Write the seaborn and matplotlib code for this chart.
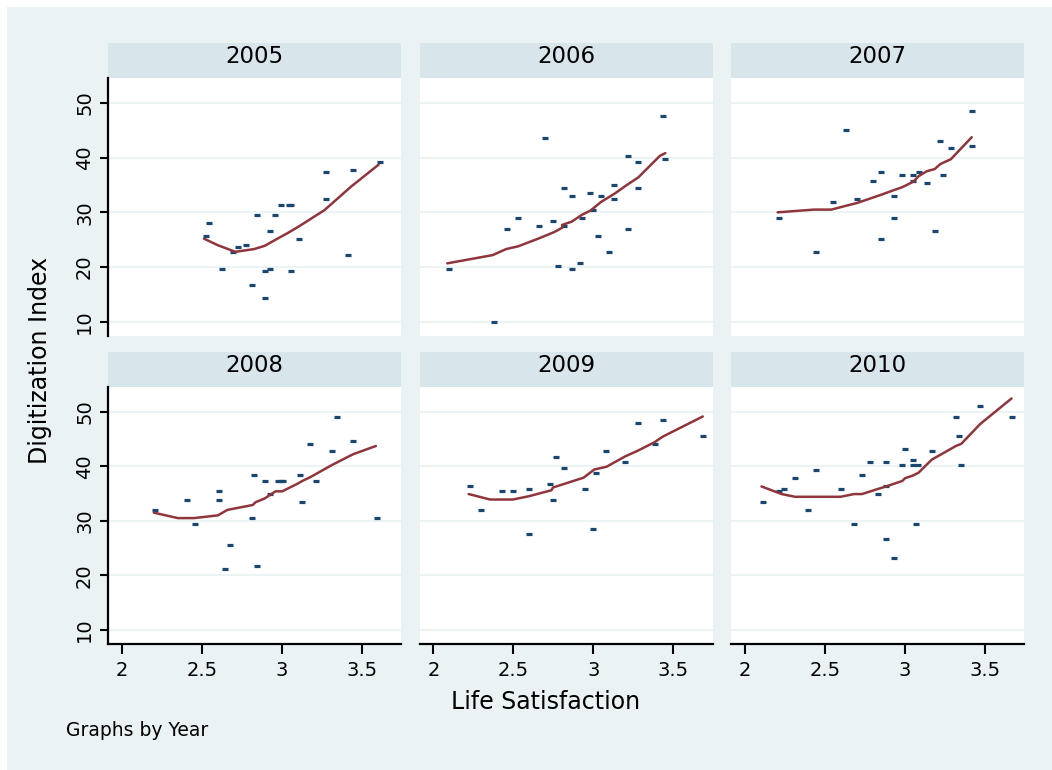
import numpy as np
import pandas as pd
import matplotlib
matplotlib.use("Agg")
import matplotlib.pyplot as plt
from matplotlib.patches import Rectangle
import seaborn as sns

# ---------------- data ----------------
years = [2005, 2006, 2007, 2008, 2009, 2010]

ls_2005 = [2.525, 2.542, 2.626, 2.692, 2.726, 2.776, 2.81, 2.843, 2.893, 2.893, 2.927, 2.927,
           2.96, 2.994, 3.044, 3.06, 3.06, 3.11, 3.278, 3.278, 3.412, 3.446, 3.613]
di_2005 = [25.6, 28.0, 19.75, 22.7, 23.65, 24.1, 16.8, 29.5, 19.3, 14.4, 26.6, 19.75,
           29.5, 31.4, 31.4, 31.4, 19.3, 25.1, 37.3, 32.4, 22.2, 37.8, 39.2]

ls_2006 = [2.094, 2.379, 2.462, 2.529, 2.663, 2.697, 2.747, 2.780, 2.814, 2.814, 2.864, 2.864,
           2.914, 2.931, 2.981, 2.998, 3.031, 3.048, 3.098, 3.132, 3.132, 3.215, 3.215, 3.282,
           3.282, 3.433, 3.45]
di_2006 = [19.75, 10.0, 27.05, 29.0, 27.5, 43.6, 28.5, 20.25, 34.4, 27.5, 33.0, 19.75,
           20.7, 29.0, 33.5, 30.5, 25.6, 33.0, 22.7, 34.9, 32.5, 40.2, 27.05, 39.2,
           34.4, 47.5, 39.7]

ls_2007 = [2.212, 2.447, 2.548, 2.632, 2.70, 2.80, 2.851, 2.851, 2.935, 2.935, 2.985, 3.053,
           3.053, 3.086, 3.137, 3.187, 3.221, 3.237, 3.288, 3.422, 3.422]
di_2007 = [29.0, 22.7, 31.9, 45.1, 32.4, 35.8, 37.3, 25.1, 33.0, 29.0, 36.8, 36.8,
           35.8, 37.3, 35.3, 26.6, 43.1, 36.8, 41.7, 48.5, 42.1]

ls_2008 = [2.207, 2.408, 2.458, 2.609, 2.609, 2.642, 2.676, 2.81, 2.826, 2.843, 2.893, 2.927,
           2.977, 2.994, 3.01, 3.111, 3.128, 3.178, 3.211, 3.312, 3.345, 3.446, 3.596]
di_2008 = [31.95, 33.9, 29.5, 35.4, 33.9, 21.2, 25.6, 30.5, 38.3, 21.7, 37.3, 34.9,
           37.3, 37.3, 37.3, 38.3, 33.4, 44.1, 37.3, 42.7, 49.0, 44.6, 30.5]

ls_2009 = [2.228, 2.295, 2.429, 2.496, 2.596, 2.596, 2.73, 2.747, 2.764, 2.814, 2.948, 2.998,
           3.015, 3.082, 3.199, 3.282, 3.383, 3.433, 3.684]
di_2009 = [36.3, 31.95, 35.4, 35.4, 35.85, 27.6, 36.8, 33.9, 41.7, 39.75, 35.85, 28.5,
           38.8, 42.7, 40.7, 48.0, 44.1, 48.5, 45.6]

ls_2010 = [2.111, 2.212, 2.245, 2.313, 2.396, 2.447, 2.598, 2.682, 2.732, 2.782, 2.833, 2.883,
           2.883, 2.883, 2.934, 2.984, 3.001, 3.051, 3.051, 3.068, 3.085, 3.168, 3.319, 3.336,
           3.353, 3.47, 3.672]
di_2010 = [33.4, 35.4, 35.85, 37.8, 31.95, 39.3, 35.85, 29.5, 38.3, 40.7, 34.9, 40.7,
           36.3, 26.6, 23.2, 40.2, 43.2, 41.2, 40.2, 29.5, 40.2, 42.7, 49.0, 45.6,
           40.2, 51.0, 49.0]

# lowess fit lines as drawn in the picture
fx_2005 = [2.513, 2.60, 2.709, 2.826, 2.893, 2.96, 3.035, 3.11, 3.266, 3.433, 3.605]
fy_2005 = [25.2, 24.0, 22.8, 23.3, 23.9, 25.0, 26.2, 27.5, 30.4, 34.7, 38.7]

fx_2006 = [2.086, 2.37, 2.454, 2.529, 2.655, 2.755, 2.805, 2.805, 2.864, 2.931, 2.981,
           3.048, 3.132, 3.215, 3.282, 3.416, 3.45]
fy_2006 = [20.7, 22.2, 23.3, 23.8, 25.2, 26.4, 27.2, 27.7, 28.3, 29.6, 30.3,
           31.9, 33.4, 35.1, 36.4, 40.3, 40.8]

fx_2007 = [2.204, 2.431, 2.54, 2.632, 2.70, 2.851, 2.935, 2.985, 3.053, 3.086, 3.137,
           3.187, 3.221, 3.288, 3.418]
fy_2007 = [30.0, 30.5, 30.5, 31.2, 31.7, 33.2, 34.1, 34.6, 35.6, 36.6, 37.5,
           37.9, 38.8, 39.7, 43.7]

fx_2008 = [2.199, 2.349, 2.45, 2.6, 2.659, 2.818, 2.835, 2.893, 2.96, 3.002, 3.098,
           3.128, 3.178, 3.312, 3.446, 3.588]
fy_2008 = [31.5, 30.5, 30.5, 31.0, 32.0, 32.9, 33.4, 34.1, 35.4, 35.4, 36.8,
           37.3, 38.0, 40.2, 42.2, 43.7]

fx_2009 = [2.22, 2.354, 2.496, 2.596, 2.738, 2.747, 2.939, 3.006, 3.082, 3.199, 3.282,
           3.383, 3.433, 3.684]
fy_2009 = [34.9, 33.9, 33.9, 34.5, 35.6, 36.1, 37.9, 39.4, 39.9, 41.8, 42.9,
           44.4, 45.4, 49.1]

fx_2010 = [2.103, 2.229, 2.313, 2.447, 2.598, 2.682, 2.732, 2.833, 2.883, 2.984, 3.001,
           3.051, 3.085, 3.168, 3.319, 3.353, 3.47, 3.667]
fy_2010 = [36.3, 34.9, 34.4, 34.4, 34.4, 34.9, 34.9, 35.85, 36.3, 37.3, 37.8,
           38.3, 38.8, 41.2, 43.7, 44.1, 47.7, 52.4]

x_ticks = [2, 2.5, 3, 3.5]
x_ticklabels = ["2", "2.5", "3", "3.5"]
y_ticks = [10, 20, 30, 40, 50]
y_ticklabels = ["10", "20", "30", "40", "50"]

pts = {2005: (ls_2005, di_2005), 2006: (ls_2006, di_2006), 2007: (ls_2007, di_2007),
       2008: (ls_2008, di_2008), 2009: (ls_2009, di_2009), 2010: (ls_2010, di_2010)}
fits = {2005: (fx_2005, fy_2005), 2006: (fx_2006, fy_2006), 2007: (fx_2007, fy_2007),
        2008: (fx_2008, fy_2008), 2009: (fx_2009, fy_2009), 2010: (fx_2010, fy_2010)}

scatter_df = pd.concat([pd.DataFrame({"Year": y, "ls": pts[y][0], "di": pts[y][1]}) for y in years])
fit_df = pd.concat([pd.DataFrame({"Year": y, "ls": fits[y][0], "di": fits[y][1]}) for y in years])

# ---------------- styling ----------------
sns.set_theme(style="white")
plt.rcParams["font.family"] = ["DejaVu Sans"]
plt.rcParams["text.color"] = "black"
plt.rcParams["xtick.color"] = "black"
plt.rcParams["ytick.color"] = "black"

BG = "#EAF2F3"
STRIP = "#D8E5EB"
NAVY = "#1A476F"
MAROON = "#90353B"

W, H = 1052, 770
fig = plt.figure(figsize=(W / 100, H / 100), dpi=100, facecolor="white")
fig.patches.append(Rectangle((7 / W, 0), 1 - 7 / W, 1 - 7 / H, transform=fig.transFigure,
                             facecolor=BG, edgecolor="none", zorder=-10))

col_left = [108, 419.5, 731]
col_w = 293
row_top = [78, 387]
row_h = [258, 257]
strip_h = 35

for i, yr in enumerate(years):
    r, c = divmod(i, 3)
    left = col_left[c]
    top = row_top[r]
    ax = fig.add_axes([left / W, 1 - (top + row_h[r]) / H, col_w / W, row_h[r] / H])
    ax.set_facecolor("white")
    sub = scatter_df[scatter_df["Year"] == yr]
    fsub = fit_df[fit_df["Year"] == yr]
    for yt in y_ticks:
        ax.axhline(yt, color=BG, lw=1.3, zorder=0)
    sns.scatterplot(data=sub, x="ls", y="di", ax=ax, marker="_", s=20, linewidth=2.3,
                    color=NAVY, zorder=3, legend=False)
    sns.lineplot(data=fsub, x="ls", y="di", ax=ax, sort=False, estimator=None,
                 color=MAROON, lw=1.8, zorder=4)
    ax.set_xlim(1.9125, 3.745)
    ax.set_ylim(7.45, 54.5)
    ax.set_xlabel("")
    ax.set_ylabel("")
    ax.grid(False)
    for s in ["top", "right"]:
        ax.spines[s].set_visible(False)
    ax.spines["left"].set_visible(c == 0)
    ax.spines["bottom"].set_visible(r == 1)
    for s in ["left", "bottom"]:
        ax.spines[s].set_color("black")
        ax.spines[s].set_linewidth(1.6)
    ax.set_yticks(y_ticks)
    if c == 0:
        ax.set_yticklabels(y_ticklabels)
        ax.tick_params(axis="y", direction="out", length=6, width=1.5, color="black",
                       labelcolor="black", labelsize=14, pad=4, left=True)
        for lab in ax.get_yticklabels():
            lab.set_rotation(90)
            lab.set_va("center")
            lab.set_ha("right")
    else:
        ax.tick_params(axis="y", left=False, labelleft=False)
    ax.set_xticks(x_ticks)
    if r == 1:
        ax.set_xticklabels(x_ticklabels)
        ax.tick_params(axis="x", direction="out", length=7, width=1.5, color="black",
                       labelcolor="black", labelsize=14, pad=5, bottom=True)
    else:
        ax.tick_params(axis="x", bottom=False, labelbottom=False)
    # strip
    st_top = top - strip_h
    fig.patches.append(Rectangle((left / W, 1 - top / H), col_w / W, strip_h / H,
                                 transform=fig.transFigure, facecolor=STRIP,
                                 edgecolor="none", zorder=-5))
    fig.text((left + col_w / 2) / W, 1 - (st_top + 20) / H, str(yr), ha="center",
             va="baseline", fontsize=16.5, color="black")

fig.text(40 / W, 1 - 360 / H, "Digitization Index", rotation=90, ha="center", va="center",
         fontsize=17, color="black")
fig.text(546 / W, 1 - 702 / H, "Life Satisfaction", ha="center", va="center",
         fontsize=17, color="black")
fig.text(66 / W, 1 - 731 / H, "Graphs by Year", ha="left", va="center",
         fontsize=13.5, color="black")

fig.savefig("out.png", dpi=100, facecolor="white")
